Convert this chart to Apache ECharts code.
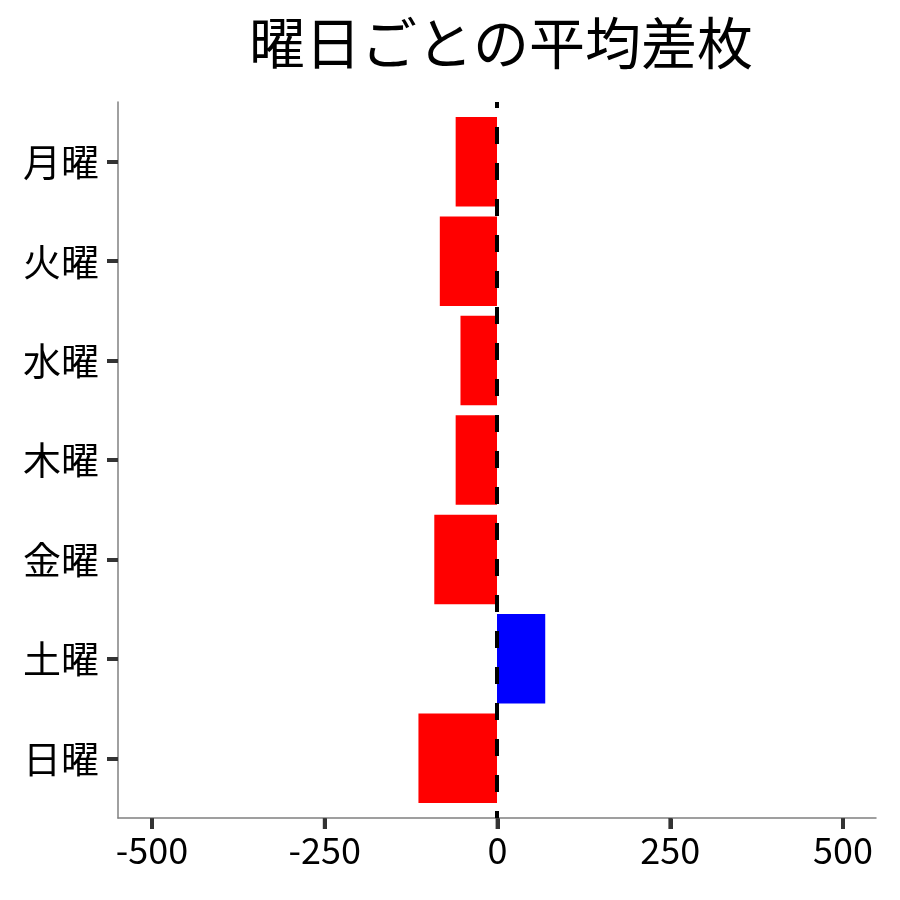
<!DOCTYPE html>
<html>
<head>
<meta charset="utf-8">
<script src="https://cdn.jsdelivr.net/npm/echarts@6/dist/echarts.min.js"></script>
<style>
  html, body { margin: 0; padding: 0; background: #fff; }
  #main { width: 900px; height: 900px; }
</style>
</head>
<body>
<div id="main"></div>
<script>
// 曜日ごとの平均差枚
const days = ['月曜', '火曜', '水曜', '木曜', '金曜', '土曜', '日曜'];
const diffs = [-60, -83, -53, -60, -91, 70, -114];
const xTicks = [-500, -250, 0, 250, 500];
const zeroLine = [[0, 1], [0, 0]];
// x目盛りの印 (目盛り用の帯の中央)
const tickMarks = xTicks.map(v => [v, 0.5]);

const font = '"Noto Sans CJK JP", "Noto Sans", sans-serif';
let Chart = echarts.init(document.getElementById('main'));

let option = {
  backgroundColor: '#ffffff',
  animation: false,
  title: {
    text: '曜日ごとの平均差枚',
    left: 496,
    top: 10,
    textAlign: 'center',
    textStyle: {
      fontFamily: font,
      fontSize: 56,
      fontWeight: 'normal',
      color: '#000'
    }
  },
  grid: [
    // 軸線用 (panel)
    { left: 118, right: 24, top: 102, bottom: 82 },
    // 棒グラフ用 (離散軸の余白分だけ内側)
    { left: 118, right: 24, top: 112, bottom: 92 },
    // x目盛り用 (軸線の下の細い帯, -500..500)
    { left: 152, right: 57, top: 818, bottom: 71 }
  ],
  xAxis: [
    {
      gridIndex: 0,
      type: 'value',
      min: -550,
      max: 550,
      splitLine: { show: false },
      axisLine: {
        show: true,
        onZero: false,
        lineStyle: { color: '#808080', width: 1.5 }
      },
      axisTick: { show: false },
      axisLabel: { show: false }
    },
    {
      gridIndex: 1,
      type: 'value',
      min: -550,
      max: 550,
      show: false
    },
    {
      gridIndex: 2,
      type: 'value',
      min: xTicks[0],
      max: xTicks[xTicks.length - 1],
      interval: 250,
      axisLine: { show: false, onZero: false },
      axisTick: { show: false },
      splitLine: {
        show: true,
        lineStyle: { color: '#333', width: 4 }
      },
      axisLabel: {
        margin: 3,
        fontFamily: font,
        fontSize: 36,
        color: '#000'
      }
    }
  ],
  yAxis: [
    {
      gridIndex: 0,
      type: 'value',
      min: 0,
      max: 1,
      splitLine: { show: false },
      axisLine: {
        show: true,
        onZero: false,
        lineStyle: { color: '#808080', width: 1.5 }
      },
      axisTick: { show: false },
      axisLabel: { show: false }
    },
    {
      gridIndex: 1,
      type: 'category',
      data: days,
      inverse: true,
      axisLine: { show: false, onZero: false },
      axisTick: {
        show: true,
        alignWithLabel: true,
        length: 11,
        lineStyle: { color: '#333', width: 4 }
      },
      axisLabel: {
        margin: 19,
        fontFamily: font,
        fontSize: 38,
        color: '#000'
      }
    },
    {
      gridIndex: 2,
      type: 'value',
      min: 0,
      max: 1,
      show: false
    }
  ],
  series: [
    {
      type: 'bar',
      xAxisIndex: 1,
      yAxisIndex: 1,
      data: diffs,
      barCategoryGap: '10%',
      itemStyle: {
        color: function (p) {
          return p.value < 0 ? '#ff0000' : '#0000ff';
        }
      }
    },
    {
      // 0の破線
      type: 'line',
      xAxisIndex: 0,
      yAxisIndex: 0,
      data: zeroLine,
      symbol: 'none',
      silent: true,
      z: 10,
      lineStyle: {
        color: '#000',
        width: 4,
        type: [17, 19],
        dashOffset: 11
      }
    },
    {
      // x軸の目盛り
      type: 'scatter',
      xAxisIndex: 2,
      yAxisIndex: 2,
      data: tickMarks,
      symbol: 'rect',
      symbolSize: [4, 11],
      silent: true,
      itemStyle: { color: '#333' },
      z: 20
    }
  ]
};

Chart.setOption(option);
</script>
</body>
</html>
